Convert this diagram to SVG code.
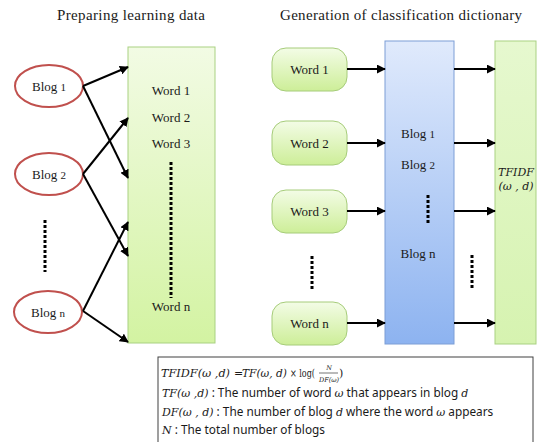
<svg xmlns="http://www.w3.org/2000/svg" width="537" height="442" viewBox="0 0 537 442">
<defs>
<linearGradient id="gL" x1="0" y1="0" x2="0" y2="1"><stop offset="0" stop-color="#f2fbe4"/><stop offset="1" stop-color="#d3f3a2"/></linearGradient>
<linearGradient id="gW" x1="0" y1="0" x2="0" y2="1"><stop offset="0" stop-color="#f3fce6"/><stop offset="1" stop-color="#cdee98"/></linearGradient>
<linearGradient id="gB" x1="0" y1="0" x2="0" y2="1"><stop offset="0" stop-color="#e0eafc"/><stop offset="1" stop-color="#8db3f0"/></linearGradient>
<linearGradient id="gR" x1="0" y1="0" x2="0" y2="1"><stop offset="0" stop-color="#e6f8cf"/><stop offset="1" stop-color="#d6f3b0"/></linearGradient>
<marker id="ah" viewBox="0 0 10 10" refX="9" refY="5" markerWidth="4.5" markerHeight="4.5" orient="auto"><path d="M0,0 L10,5 L0,10 z" fill="#000"/></marker>
</defs>
<style>
.t{font-family:"Liberation Serif",serif;font-size:13px;fill:#1a1a1a}
.ttl{font-family:"Liberation Serif",serif;font-size:15px;fill:#1a1a1a}
.sm{font-size:11px}
.m{font-family:"DejaVu Serif","Liberation Serif",serif;font-style:italic;font-size:11px;fill:#1a1a1a}
.n{font-family:"DejaVu Serif","Liberation Serif",serif;font-size:11px;fill:#1a1a1a}
.f{font-size:6.5px}
.s{font-family:"Noto Sans","Open Sans",sans-serif;font-size:11.8px;fill:#1a1a1a}
.ell{fill:#fff;stroke:#c0504d;stroke-width:2}
.wb{fill:url(#gW);stroke:#a6cc7a;stroke-width:1}
.ar{stroke:#000;stroke-width:2;fill:none;marker-end:url(#ah)}
.dot{stroke:#000;stroke-width:3;stroke-dasharray:3 2;fill:none}
</style>
<rect width="537" height="442" fill="#fff"/>
<text class="ttl" x="57" y="20" textLength="148" lengthAdjust="spacing">Preparing learning data</text>
<text class="ttl" x="280" y="20" textLength="242" lengthAdjust="spacing">Generation of classification dictionary</text>

<g id="wordlist">
<rect x="128" y="47" width="87" height="296" fill="url(#gL)" stroke="#a9d182" stroke-width="1"/>
<text class="t" x="171" y="95" text-anchor="middle">Word 1</text>
<text class="t" x="171" y="122" text-anchor="middle">Word 2</text>
<text class="t" x="171" y="148" text-anchor="middle">Word 3</text>
<line class="dot" x1="171" y1="162" x2="171" y2="298"/>
<text class="t" x="171" y="311" text-anchor="middle">Word n</text>
</g>
<g id="blog1"><ellipse class="ell" cx="49" cy="86" rx="34" ry="21"/><text class="t" x="49" y="91" text-anchor="middle">Blog <tspan class="sm">1</tspan></text></g>
<g id="blog2"><ellipse class="ell" cx="49" cy="174" rx="34" ry="21"/><text class="t" x="49" y="179" text-anchor="middle">Blog <tspan class="sm">2</tspan></text></g>
<line class="dot" x1="45" y1="220" x2="45" y2="272"/>
<g id="blogn"><ellipse class="ell" cx="48" cy="312" rx="34" ry="21"/><text class="t" x="48" y="317" text-anchor="middle">Blog <tspan class="sm">n</tspan></text></g>

<g id="w1"><rect class="wb" x="272" y="48" width="75" height="43" rx="14"/><text class="t" x="309.5" y="74" text-anchor="middle">Word 1</text></g>
<g id="w2"><rect class="wb" x="272" y="121" width="75" height="44" rx="14"/><text class="t" x="309.5" y="148" text-anchor="middle">Word 2</text></g>
<g id="w3"><rect class="wb" x="272" y="190" width="75" height="43" rx="14"/><text class="t" x="309.5" y="216" text-anchor="middle">Word 3</text></g>
<line class="dot" x1="312" y1="256" x2="312" y2="291"/>
<g id="wn"><rect class="wb" x="272" y="302" width="75" height="43" rx="14"/><text class="t" x="309.5" y="328" text-anchor="middle">Word n</text></g>

<g id="blogs">
<rect x="385" y="41" width="69" height="303" fill="url(#gB)" stroke="#7c9ed6" stroke-width="1"/>
<text class="t" x="418" y="138" text-anchor="middle">Blog <tspan class="sm">1</tspan></text>
<text class="t" x="418" y="169" text-anchor="middle">Blog <tspan class="sm">2</tspan></text>
<line class="dot" x1="428" y1="195" x2="428" y2="223"/>
<text class="t" x="418" y="258" text-anchor="middle">Blog n</text>
</g>
<line class="dot" x1="472" y1="255" x2="472" y2="289"/>
<g id="tfidf">
<rect x="495" y="41" width="41" height="303" fill="url(#gR)" stroke="#a9d182" stroke-width="1"/>
<text class="m" x="516" y="176" text-anchor="middle">TFIDF</text>
<text class="m" x="516" y="190" text-anchor="middle">(ω , d)</text>
</g>

<g id="connectors">
<line class="ar" x1="83" y1="86" x2="128" y2="67"/>
<line class="ar" x1="83" y1="86" x2="128" y2="178"/>
<line class="ar" x1="83" y1="174" x2="128" y2="118"/>
<line class="ar" x1="83" y1="174" x2="128" y2="256"/>
<line class="ar" x1="83" y1="311" x2="128" y2="222"/>
<line class="ar" x1="83" y1="311" x2="128" y2="342"/>
<line class="ar" x1="347" y1="69" x2="385" y2="69"/>
<line class="ar" x1="347" y1="143" x2="385" y2="143"/>
<line class="ar" x1="347" y1="211" x2="385" y2="211"/>
<line class="ar" x1="347" y1="323" x2="385" y2="323"/>
<line class="ar" x1="454" y1="69" x2="495" y2="69"/>
<line class="ar" x1="454" y1="143" x2="495" y2="143"/>
<line class="ar" x1="454" y1="211" x2="495" y2="211"/>
<line class="ar" x1="454" y1="323" x2="495" y2="323"/>
</g>

<g id="formula">
<rect x="158" y="357" width="375" height="90" fill="#fff" stroke="#404040" stroke-width="1"/>
<text class="m" x="161" y="377" textLength="69" lengthAdjust="spacingAndGlyphs">TFIDF(ω ,d)</text>
<text class="n" x="234" y="377">=</text>
<text class="m" x="242" y="377" textLength="45" lengthAdjust="spacingAndGlyphs">TF(ω, d)</text>
<text class="n" x="290" y="377" textLength="25" lengthAdjust="spacingAndGlyphs">× log(</text>
<text class="m f" x="329" y="369.5" text-anchor="middle">N</text>
<line x1="319" y1="373" x2="338" y2="373" stroke="#1a1a1a" stroke-width="0.6"/>
<text class="m f" x="329" y="382" text-anchor="middle">DF(ω)</text>
<text class="n" x="339" y="377">)</text>
<text x="162" y="397"><tspan class="m">TF(ω ,d)</tspan><tspan class="s"> : The number of word </tspan><tspan class="m">ω</tspan><tspan class="s"> that appears in blog </tspan><tspan class="m">d</tspan></text>
<text x="162" y="416"><tspan class="m">DF(ω , d)</tspan><tspan class="s"> : The number of blog </tspan><tspan class="m">d</tspan><tspan class="s"> where the word </tspan><tspan class="m">ω</tspan><tspan class="s"> appears</tspan></text>
<text x="162" y="434"><tspan class="m">N</tspan><tspan class="s"> : The total number of blogs</tspan></text>
</g>
</svg>
